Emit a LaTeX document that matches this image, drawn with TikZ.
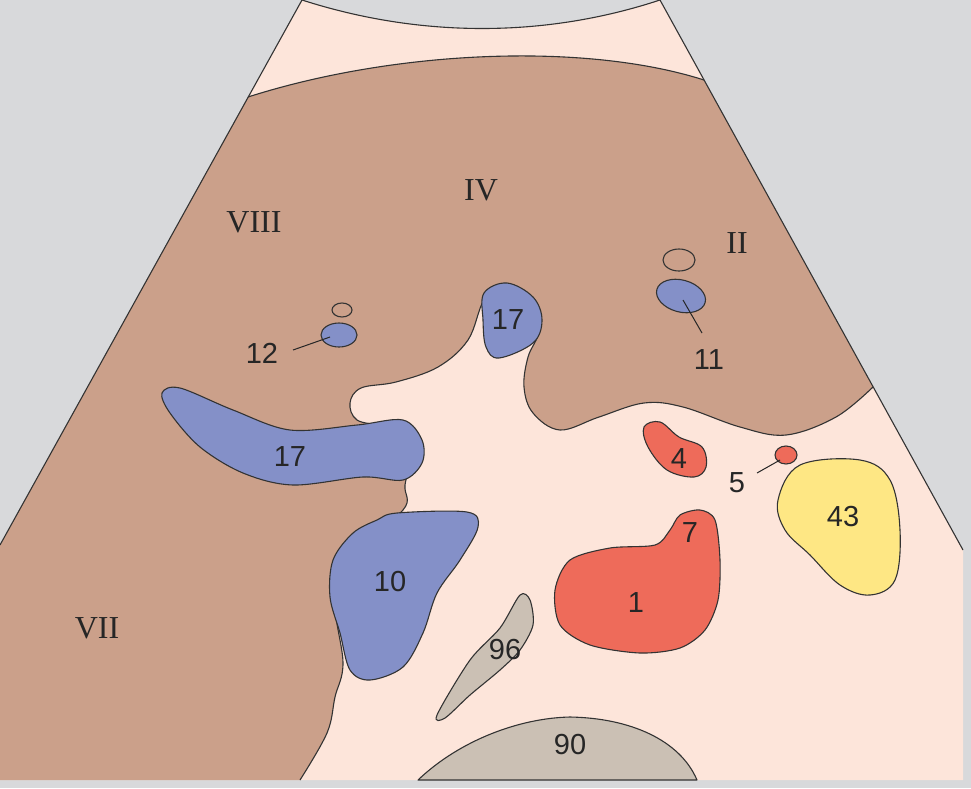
\documentclass[tikz,border=0pt]{standalone}
\usepackage{fontspec}
\setmainfont{Liberation Serif}
\newfontfamily\arialf{Liberation Sans}
\definecolor{bgc}{HTML}{D8D9DB}
\definecolor{pinkc}{HTML}{FDE5DA}
\definecolor{brownc}{HTML}{CBA08A}
\definecolor{bluec}{HTML}{8490C8}
\definecolor{redc}{HTML}{EE6B5A}
\definecolor{yelc}{HTML}{FEE784}
\definecolor{greyc}{HTML}{CBC0B4}
\tikzset{
 organ/.style={draw=black!80,line width=1.1pt,line join=round},
 num/.style={font=\arialf\fontsize{29}{31}\selectfont,text=black!85,inner sep=0pt},
 rom/.style={font=\fontsize{32}{34}\selectfont,text=black!85,inner sep=0pt},
 lead/.style={draw=black!85,line width=1pt}
}
\begin{document}
\begin{tikzpicture}[x=1pt,y=-1pt]
\useasboundingbox (0,0) rectangle (971,788);
\fill[bgc] (0,0) rectangle (971,788);
% fan
\fill[pinkc] (302,0) .. controls (420,38) and (545,38) .. (660,0) -- (963,550) -- (963,780) -- (0,780) -- (0,545) -- cycle;
% liver
\fill[brownc] (0,545) -- (248,97) .. controls (395,50) and (585,42) .. (704,80) -- (873,387)
 -- plot[smooth,tension=0.6] coordinates {(873,387) (836,417) (786,435) (740,427) (683,407) (644,403) (599,417) (560,430) (533,413) (524,387) (528,357) (539,330) (530,300) (505,285) (484,300) (468,340) (438,367) (396,382) (361,388) (350,403) (357,420) (385,428) (410,450) (405,485) (403,510) (350,550) (335,600) (343,663) (335,697) (327,733) (300,780)}
 -- (0,780) -- cycle;
\draw[organ] plot[smooth,tension=0.6] coordinates {(873,387) (836,417) (786,435) (740,427) (683,407) (644,403) (599,417) (560,430) (533,413) (524,387) (528,357) (539,330) (530,300) (505,285) (484,300) (468,340) (438,367) (396,382) (361,388) (350,403) (357,420) (385,428) (410,450) (405,485) (403,510) (350,550) (335,600) (343,663) (335,697) (327,733) (300,780)};
\draw[organ] (248,97) .. controls (395,50) and (585,42) .. (704,80);
\draw[organ] (0,545) -- (302,0) .. controls (420,38) and (545,38) .. (660,0) -- (963,550);
% vessels
\draw[organ,fill=bluec] plot[smooth cycle,tension=0.6] coordinates {(484,293) (507,283) (533,297) (542,320) (533,343) (499,358) (486,347) (483,320)};
\draw[organ,fill=bluec] plot[smooth cycle,tension=0.55] coordinates {(162,393) (180,388) (233,410) (290,430) (357,425) (403,420) (422,440) (422,463) (403,480) (363,477) (293,485) (243,473) (200,447) (170,413)};
\draw[organ,fill=bluec] plot[smooth cycle,tension=0.55] coordinates {(397,513) (467,512) (478,527) (460,560) (437,593) (423,633) (403,667) (370,680) (350,670) (340,633) (330,597) (333,560) (353,533) (377,520)};
\draw[organ] (342,310) ellipse [x radius=10,y radius=7];
\draw[organ,fill=bluec] (339,335) ellipse [x radius=18,y radius=12];
\draw[organ] (679,260) ellipse [x radius=16,y radius=11];
\draw[organ,fill=bluec,rotate around={-15:(681,296)}] (681,296) ellipse [x radius=25,y radius=16];
\draw[organ,fill=redc] plot[smooth cycle,tension=0.6] coordinates {(644,427) (660,422) (679,437) (702,447) (706,467) (694,477) (667,470) (648,447)};
\draw[organ,fill=redc] (786,455) ellipse [x radius=11,y radius=9];
\draw[organ,fill=yelc] plot[smooth cycle,tension=0.6] coordinates {(800,465) (860,460) (890,480) (900,530) (895,580) (870,595) (840,585) (810,555) (785,530) (778,500)};
\draw[organ,fill=redc] plot[smooth cycle,tension=0.5] coordinates {(555,590) (570,560) (610,548) (655,545) (670,530) (680,515) (700,510) (715,520) (720,560) (718,600) (705,630) (680,648) (640,653) (590,645) (560,625)};
\draw[organ,fill=greyc] plot[smooth cycle,tension=0.5] coordinates {(437,715) (470,660) (500,628) (520,595) (530,600) (533,625) (520,650) (500,670) (470,695) (445,718)};
\draw[organ,fill=greyc] (418,780) .. controls (460,740) and (520,718) .. (570,717) .. controls (630,718) and (680,740) .. (697,780) -- cycle;
% leaders
\coordinate (l12a) at (293,350); \coordinate (l12b) at (330,337);
\draw[lead] (l12a) -- (l12b);
\coordinate (l11a) at (683,300); \coordinate (l11b) at (702,333);
\draw[lead] (l11a) -- (l11b);
\coordinate (l5a) at (757,473); \coordinate (l5b) at (780,460);
\draw[lead] (l5a) -- (l5b);
% labels
\node[rom] (r8) at (254,222) {VIII};
\node[rom] (r4) at (481,190) {IV};
\node[rom] (r2) at (737,243) {II};
\node[rom] (r7) at (97,628) {VII};
\node[num] (n17a) at (508,320) {17};
\node[num] (n17b) at (290,457) {17};
\node[num] (n10) at (390,582) {10};
\node[num] (n12) at (262,353) {12};
\node[num] (n11) at (709,360) {11};
\node[num] (n4) at (679,459) {4};
\node[num] (n5) at (737,483) {5};
\node[num] (n43) at (843,517) {43};
\node[num] (n7) at (690,533) {7};
\node[num] (n1) at (636,603) {1};
\node[num] (n96) at (505,650) {96};
\node[num] (n90) at (570,745) {90};
\end{tikzpicture}
\end{document}
